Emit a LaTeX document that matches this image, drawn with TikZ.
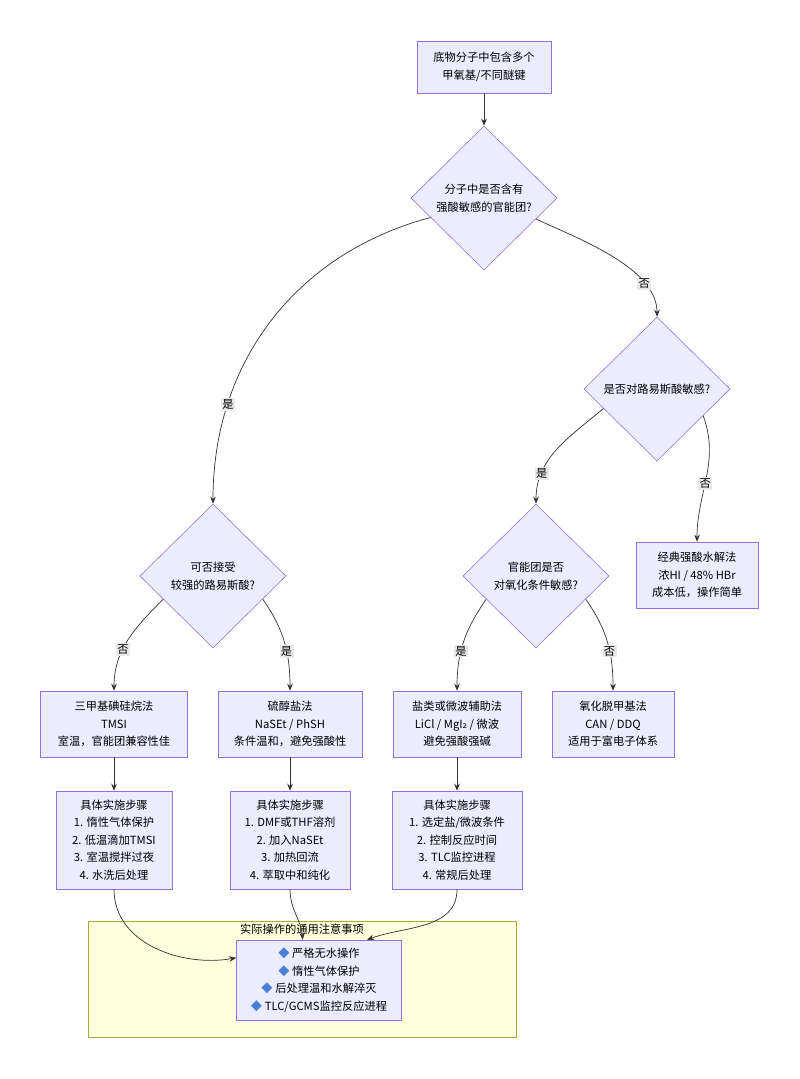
\documentclass[tikz,border=0pt]{standalone}
\usepackage{fontspec}
\setmainfont{Noto Sans CJK SC}
\newfontfamily\symfont{DejaVu Sans}
\usetikzlibrary{shapes.geometric,arrows.meta}
\definecolor{nodefill}{HTML}{ECECFF}
\definecolor{nodeline}{HTML}{9370DB}
\definecolor{edgeline}{HTML}{333333}
\definecolor{clusterfill}{HTML}{FFFFDE}
\definecolor{clusterline}{HTML}{AAAA33}
\definecolor{labelfill}{HTML}{E8E8E8}
\definecolor{bullet}{HTML}{4A7FD6}
\tikzset{
  box/.style={draw=nodeline, fill=nodefill, rectangle, align=center, inner sep=0pt,
    font=\fontsize{8}{12.5}\selectfont},
  decision/.style={draw=nodeline, fill=nodefill, diamond, align=center, inner sep=0pt,
    minimum width=3.65cm, minimum height=3.6cm, font=\fontsize{8}{12.5}\selectfont},
  flow/.style={draw=edgeline, -{Stealth[length=5pt,width=4pt]}, line width=0.5pt},
  tag/.style={fill=labelfill, inner sep=1pt, font=\fontsize{8}{10}\selectfont}
}
\newcommand{\bul}{{\color{bullet}◆}\ }
\begin{document}
\begin{tikzpicture}[x=0.025cm, y=-0.025cm]
\useasboundingbox (0,0) rectangle (800,1079);

% Cluster
\draw[clusterline, fill=clusterfill] (88,921) rectangle (516,1037);
\node[font=\fontsize{8}{10}\selectfont] (clabel) at (302,929) {实际操作的通用注意事项};

% Nodes
\node[box, minimum width=3.35cm, minimum height=1.3cm] (start) at (484,67) {底物分子中包含多个\\甲氧基/不同醚键};
\node[decision] (acid) at (484,198) {分子中是否含有\\强酸敏感的官能团?};
\node[decision] (lewis) at (657,389) {是否对路易斯酸敏感?};
\node[decision] (strong) at (213,576) {可否接受\\较强的路易斯酸?};
\node[decision] (oxid) at (536,576) {官能团是否\\对氧化条件敏感?};
\node[box, minimum width=3.05cm, minimum height=1.65cm] (classic) at (697,575) {经典强酸水解法\\浓HI / 48\% HBr\\成本低，操作简单};
\node[box, minimum width=3.675cm, minimum height=1.65cm] (tmsi) at (114,724) {三甲基碘硅烷法\\TMSI\\室温，官能团兼容性佳};
\node[box, minimum width=3.6cm, minimum height=1.65cm] (thiol) at (290,724) {硫醇盐法\\NaSEt / PhSH\\条件温和，避免强酸性};
\node[box, minimum width=3.2cm, minimum height=1.65cm] (salt) at (457,724) {盐类或微波辅助法\\LiCl / MgI{\symfont ₂} / 微波\\避免强酸强碱};
\node[box, minimum width=3.05cm, minimum height=1.65cm] (ox) at (613,724) {氧化脱甲基法\\CAN / DDQ\\适用于富电子体系};
\node[box, minimum width=2.9cm, minimum height=2.45cm] (stepa) at (114,840) {具体实施步骤\\1. 惰性气体保护\\2. 低温滴加TMSI\\3. 室温搅拌过夜\\4. 水洗后处理};
\node[box, minimum width=3cm, minimum height=2.45cm] (stepb) at (290,840) {具体实施步骤\\1. DMF或THF溶剂\\2. 加入NaSEt\\3. 加热回流\\4. 萃取中和纯化};
\node[box, minimum width=3.25cm, minimum height=2.45cm] (stepc) at (457,840) {具体实施步骤\\1. 选定盐/微波条件\\2. 控制反应时间\\3. TLC监控进程\\4. 常规后处理};
\node[box, minimum width=4.125cm, minimum height=2cm] (notes) at (319,980) {\bul 严格无水操作\\\bul 惰性气体保护\\\bul 后处理温和水解淬灭\\\bul TLC/GCMS监控反应进程};

% Connectors
\draw[flow] (start) -- (acid);
\draw[flow] (acid.-22) to[out=-25,in=90,looseness=0.8] node[tag, pos=0.75] {否} (lewis.north);
\draw[flow] (acid.200) to[out=195,in=90] node[tag, pos=0.75] {是} (strong.north);
\draw[flow] (lewis.200) to[out=220,in=90] node[tag, pos=0.75] {是} (oxid.north);
\draw[flow] (lewis.-30) to[out=-70,in=90] node[tag, pos=0.55] {否} (classic.north);
\draw[flow] (strong.205) to[out=225,in=90] node[tag, pos=0.6] {否} (tmsi.north);
\draw[flow] (strong.-25) to[out=-55,in=90] node[tag, pos=0.6] {是} (thiol.north);
\draw[flow] (oxid.205) to[out=235,in=90] node[tag, pos=0.6] {是} (salt.north);
\draw[flow] (oxid.-25) to[out=-55,in=90] node[tag, pos=0.6] {否} (ox.north);
\draw[flow] (tmsi) -- (stepa);
\draw[flow] (thiol) -- (stepb);
\draw[flow] (salt) -- (stepc);
\draw[flow] (stepa.south) to[out=-90,in=190] (notes.165);
\draw[flow] (stepb.south) to[out=-90,in=95] (notes.112);
\draw[flow] (stepc.south) to[out=-90,in=20] (notes.40);
\end{tikzpicture}
\end{document}
